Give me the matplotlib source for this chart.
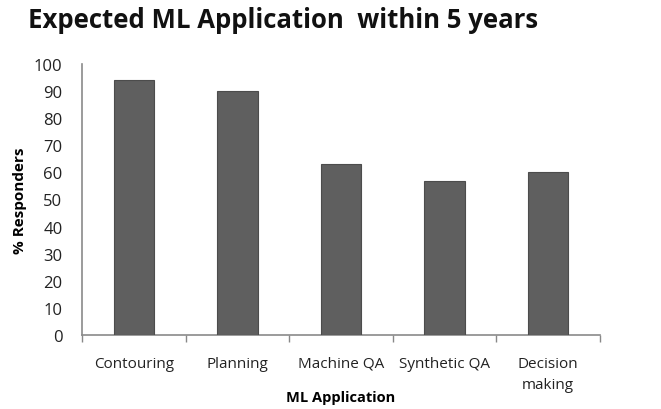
import matplotlib
matplotlib.use("Agg")
import matplotlib.pyplot as plt
import numpy as np

categories = ["Contouring", "Planning", "Machine QA", "Synthetic QA", "Decision\nmaking"]
values = [94, 90, 63, 57, 60]
yticks = [0, 10, 20, 30, 40, 50, 60, 70, 80, 90, 100]

plt.rcParams['font.family'] = ['Open Sans', 'DejaVu Sans']

fig = plt.figure(figsize=(6.61, 4.10), dpi=100)
ax = fig.add_axes([82/661, 1-336/410, (600-82)/661, (336-65)/410])

x = np.arange(len(categories))
ax.bar(x, values, width=0.39, color="#5f5f5f", edgecolor="#4c4c4c", linewidth=0.8, zorder=3)

ax.set_xlim(-0.5, len(categories) - 0.5)
ax.set_ylim(0, 100)
ax.set_yticks(yticks)
ax.set_yticklabels([str(v) for v in yticks], fontsize=12, color="#222222")
ax.set_xticks(x)
ax.set_xticklabels(categories, fontsize=11, color="#222222", linespacing=1.6)
ax.tick_params(axis='y', length=0, pad=14)
ax.tick_params(axis='x', which='major', length=0, pad=15)
ax.set_xticks(np.arange(-0.5, len(categories) + 0.5, 1), minor=True)
ax.tick_params(axis='x', which='minor', length=5, color="#888888", width=1)

for s in ["top", "right"]:
    ax.spines[s].set_visible(False)
for s in ["left", "bottom"]:
    ax.spines[s].set_color("#8a8a8a")
    ax.spines[s].set_linewidth(1.2)

ax.set_ylabel("% Responders", fontsize=11, fontweight="bold", labelpad=5)
ax.set_xlabel("ML Application", fontsize=10.5, fontweight="bold", labelpad=-2)

fig.text(283/661, 1-20/410, "Expected ML Application  within 5 years", ha="center", va="center",
         fontsize=18.5, fontweight="bold", color="#111111")

fig.savefig("out.png", dpi=100)
